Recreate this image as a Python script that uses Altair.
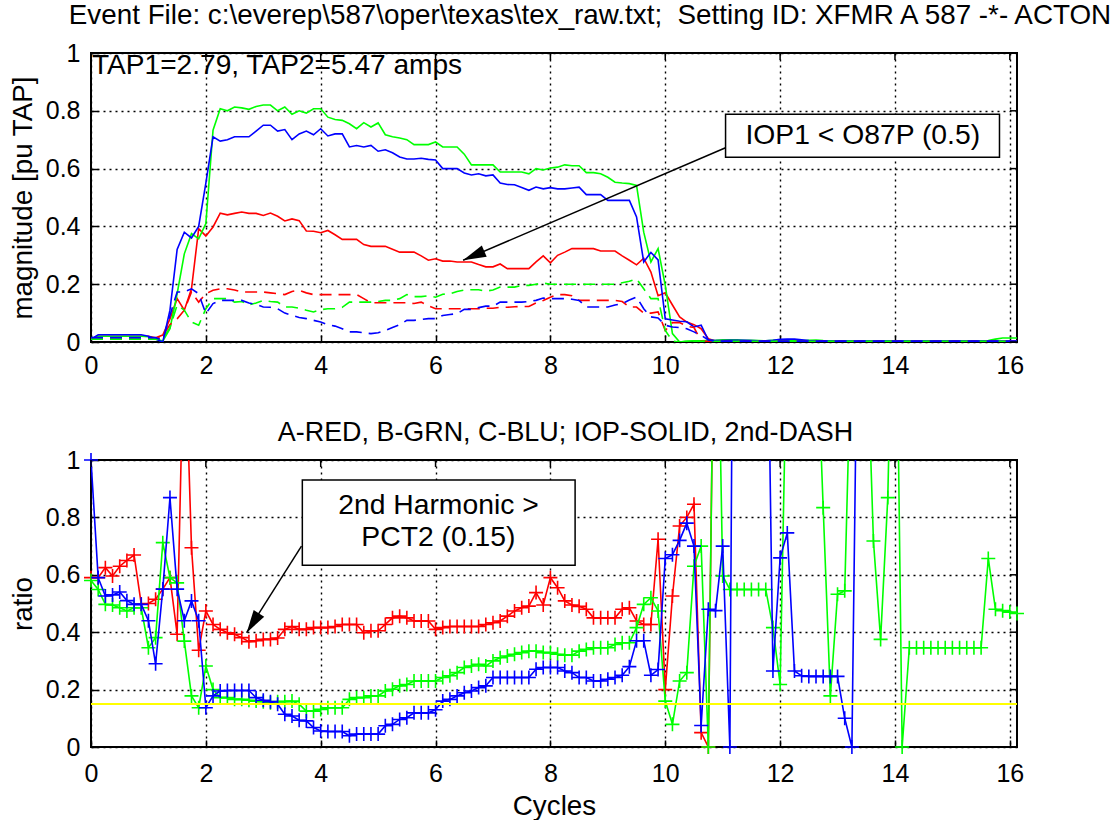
import altair as alt
import pandas as pd

# ---------------- data ----------------
T_STEP = 0.125          # sample spacing in cycles
N_SAMPLES = 130
T_MAX = 16.125
PCT2 = 0.15

title_top = "Event File: c:\\everep\\587\\oper\\texas\\tex_raw.txt;\u00a0 Setting ID: XFMR A 587 -*- ACTON"
title_bottom = "A-RED, B-GRN, C-BLU; IOP-SOLID, 2nd-DASH"
tap_text = "TAP1=2.79, TAP2=5.47 amps"
x_ticks = [0, 2, 4, 6, 8, 10, 12, 14, 16]
y_ticks = [0, 0.2, 0.4, 0.6, 0.8, 1]

# operate currents (solid), pu TAP
iop_a = [0.01, 0.02, 0.02, 0.02, 0.02, 0.02, 0.02, 0.02, 0.02, 0.015,
         0.024, 0.08, 0.15, 0.11, 0.184, 0.392, 0.367, 0.398, 0.446, 0.44,
         0.445, 0.45, 0.445, 0.445, 0.438, 0.446, 0.435, 0.419, 0.426, 0.42,
         0.384, 0.383, 0.378, 0.386, 0.371, 0.355, 0.355, 0.355, 0.337, 0.331,
         0.331, 0.331, 0.321, 0.311, 0.311, 0.311, 0.298, 0.283, 0.288, 0.28,
         0.28, 0.277, 0.277, 0.277, 0.268, 0.26, 0.26, 0.27, 0.254, 0.254,
         0.254, 0.254, 0.277, 0.298, 0.274, 0.3, 0.311, 0.323, 0.323, 0.323,
         0.323, 0.315, 0.315, 0.315, 0.298, 0.283, 0.267, 0.29, 0.242, 0.16,
         0.17, 0.128, 0.087, 0.069, 0.06, 0.046, 0.011, 0.003, 0.002, 0.002,
         0.002, 0.002, 0.002, 0.002, 0.002, 0.002, 0.002, 0.002, 0.002, 0.002,
         0.002, 0.002, 0.002, 0.002, 0.002, 0.002, 0.002, 0.002, 0.002, 0.002,
         0.002, 0.002, 0.002, 0.002, 0.002, 0.002, 0.002, 0.002, 0.002, 0.002,
         0.002, 0.002, 0.002, 0.002, 0.002, 0.002, 0.002, 0.002, 0.002, 0.002]
iop_b = [0.01, 0.02, 0.02, 0.02, 0.02, 0.02, 0.02, 0.02, 0.018, 0.01,
         0.003, 0.046, 0.167, 0.305, 0.375, 0.357, 0.41, 0.733, 0.807, 0.8,
         0.813, 0.81, 0.805, 0.815, 0.82, 0.82, 0.8, 0.813, 0.788, 0.8,
         0.792, 0.807, 0.807, 0.778, 0.77, 0.767, 0.755, 0.738, 0.759, 0.744,
         0.758, 0.717, 0.71, 0.706, 0.7, 0.683, 0.683, 0.683, 0.692, 0.675,
         0.675, 0.675, 0.65, 0.613, 0.613, 0.613, 0.613, 0.588, 0.588, 0.588,
         0.588, 0.582, 0.6, 0.595, 0.602, 0.605, 0.613, 0.61, 0.61, 0.586,
         0.586, 0.582, 0.57, 0.553, 0.55, 0.548, 0.542, 0.38, 0.277, 0.323,
         0.196, 0.029, 0.0, 0.003, 0.004, 0.004, 0.005, 0.006, 0.008, 0.008,
         0.008, 0.006, 0.006, 0.005, 0.004, 0.006, 0.008, 0.005, 0.004, 0.004,
         0.006, 0.007, 0.005, 0.004, 0.004, 0.003, 0.003, 0.003, 0.003, 0.003,
         0.003, 0.003, 0.003, 0.003, 0.003, 0.003, 0.003, 0.003, 0.003, 0.003,
         0.003, 0.003, 0.003, 0.003, 0.003, 0.005, 0.01, 0.014, 0.014, 0.014]
iop_c = [0.01, 0.025, 0.025, 0.025, 0.025, 0.025, 0.025, 0.025, 0.02, 0.01,
         0.0, 0.11, 0.32, 0.38, 0.36, 0.40, 0.55, 0.71, 0.695, 0.70,
         0.71, 0.71, 0.71, 0.73, 0.75, 0.75, 0.73, 0.735, 0.70, 0.72,
         0.73, 0.717, 0.738, 0.713, 0.72, 0.72, 0.675, 0.68, 0.675, 0.68,
         0.66, 0.665, 0.655, 0.64, 0.633, 0.633, 0.636, 0.632, 0.63, 0.60,
         0.60, 0.60, 0.585, 0.578, 0.582, 0.575, 0.578, 0.55, 0.545, 0.544,
         0.535, 0.525, 0.536, 0.53, 0.534, 0.53, 0.53, 0.533, 0.536, 0.51,
         0.51, 0.51, 0.49, 0.49, 0.49, 0.49, 0.433, 0.277, 0.31, 0.284,
         0.08, 0.076, 0.072, 0.07, 0.052, 0.058, 0.007, 0.005, 0.005, 0.006,
         0.006, 0.006, 0.005, 0.004, 0.004, 0.006, 0.009, 0.01, 0.01, 0.008,
         0.005, 0.004, 0.004, 0.003, 0.003, 0.003, 0.003, 0.003, 0.003, 0.003,
         0.003, 0.003, 0.003, 0.003, 0.003, 0.003, 0.003, 0.003, 0.003, 0.003,
         0.003, 0.003, 0.003, 0.003, 0.003, 0.003, 0.003, 0.003, 0.003, 0.003]

# 2nd harmonic (dashed), pu TAP
h2_a = [0.01, 0.01, 0.01, 0.01, 0.01, 0.01, 0.01, 0.01, 0.01, 0.01,
        0.02, 0.06, 0.08, 0.11, 0.173, 0.138, 0.167, 0.179, 0.184, 0.184,
        0.18, 0.173, 0.173, 0.173, 0.173, 0.17, 0.167, 0.164, 0.175, 0.179,
        0.17, 0.164, 0.164, 0.164, 0.164, 0.164, 0.164, 0.164, 0.15, 0.136,
        0.136, 0.136, 0.136, 0.136, 0.136, 0.133, 0.138, 0.125, 0.115, 0.115,
        0.115, 0.115, 0.115, 0.115, 0.115, 0.117, 0.117, 0.12, 0.12, 0.122,
        0.123, 0.123, 0.135, 0.144, 0.155, 0.164, 0.164, 0.16, 0.144, 0.144,
        0.144, 0.144, 0.144, 0.144, 0.14, 0.121, 0.121, 0.1, 0.1, 0.104,
        0.04, 0.067, 0.067, 0.055, 0.05, 0.003, 0.002, 0.002, 0.002, 0.002,
        0.002, 0.002, 0.002, 0.002, 0.002, 0.002, 0.002, 0.002, 0.002, 0.002,
        0.002, 0.002, 0.002, 0.002, 0.002, 0.002, 0.002, 0.002, 0.002, 0.002,
        0.002, 0.002, 0.002, 0.002, 0.002, 0.002, 0.002, 0.002, 0.002, 0.002,
        0.002, 0.002, 0.002, 0.002, 0.002, 0.002, 0.002, 0.002, 0.002, 0.002]
h2_b = [0.01, 0.01, 0.01, 0.01, 0.01, 0.01, 0.01, 0.01, 0.01, 0.01,
        0.01, 0.05, 0.128, 0.11, 0.069, 0.058, 0.115, 0.15, 0.15, 0.15,
        0.138, 0.14, 0.128, 0.135, 0.144, 0.14, 0.138, 0.121, 0.121, 0.117,
        0.11, 0.104, 0.112, 0.115, 0.115, 0.12, 0.138, 0.138, 0.138, 0.138,
        0.14, 0.144, 0.144, 0.15, 0.164, 0.157, 0.157, 0.16, 0.155, 0.165,
        0.167, 0.175, 0.18, 0.181, 0.181, 0.176, 0.18, 0.19, 0.19, 0.19,
        0.196, 0.196, 0.2, 0.204, 0.2, 0.2, 0.2, 0.2, 0.2, 0.2,
        0.2, 0.2, 0.2, 0.2, 0.205, 0.21, 0.219, 0.184, 0.15, 0.15,
        0.04, 0.003, 0.0, 0.002, 0.002, 0.002, 0.002, 0.002, 0.002, 0.002,
        0.002, 0.002, 0.002, 0.002, 0.002, 0.002, 0.002, 0.002, 0.002, 0.002,
        0.002, 0.002, 0.002, 0.002, 0.002, 0.002, 0.002, 0.002, 0.002, 0.002,
        0.002, 0.002, 0.002, 0.002, 0.002, 0.002, 0.002, 0.002, 0.002, 0.002,
        0.002, 0.002, 0.002, 0.002, 0.002, 0.002, 0.002, 0.002, 0.002, 0.002]
h2_c = [0.015, 0.015, 0.015, 0.015, 0.015, 0.015, 0.015, 0.015, 0.015, 0.015,
        0.005, 0.092, 0.173, 0.173, 0.184, 0.167, 0.098, 0.133, 0.144, 0.144,
        0.144, 0.144, 0.135, 0.13, 0.121, 0.12, 0.115, 0.1, 0.092, 0.085,
        0.081, 0.075, 0.069, 0.06, 0.055, 0.046, 0.035, 0.035, 0.032, 0.029,
        0.032, 0.04, 0.05, 0.06, 0.075, 0.075, 0.078, 0.081, 0.081, 0.092,
        0.095, 0.098, 0.113, 0.113, 0.119, 0.124, 0.124, 0.138, 0.138, 0.138,
        0.138, 0.14, 0.144, 0.152, 0.15, 0.15, 0.15, 0.148, 0.144, 0.121,
        0.121, 0.121, 0.121, 0.128, 0.133, 0.145, 0.156, 0.115, 0.087, 0.083,
        0.058, 0.052, 0.05, 0.046, 0.035, 0.023, 0.007, 0.003, 0.003, 0.003,
        0.003, 0.003, 0.003, 0.003, 0.003, 0.003, 0.003, 0.003, 0.003, 0.003,
        0.003, 0.003, 0.003, 0.003, 0.003, 0.003, 0.003, 0.003, 0.003, 0.003,
        0.003, 0.003, 0.003, 0.003, 0.003, 0.003, 0.003, 0.003, 0.003, 0.003,
        0.003, 0.003, 0.003, 0.003, 0.003, 0.003, 0.003, 0.003, 0.003, 0.003]

# 2nd harmonic ratios (None = not computed)
ratio_a = [0.59, 0.59, 0.625, 0.596, 0.63, 0.65, 0.669, 0.498, 0.5, 0.515,
           0.55, 0.59, 0.393, 1.5, 0.694, 0.337, 0.474, 0.427, 0.41, 0.398,
           0.393, 0.381, 0.367, 0.37, 0.375, 0.375, 0.38, 0.41, 0.42, 0.41,
           0.41, 0.416, 0.416, 0.416, 0.42, 0.427, 0.427, 0.427, 0.398, 0.405,
           0.405, 0.427, 0.45, 0.456, 0.45, 0.439, 0.439, 0.439, 0.41, 0.416,
           0.42, 0.42, 0.42, 0.42, 0.42, 0.427, 0.433, 0.439, 0.456, 0.474,
           0.485, 0.491, 0.538, 0.495, 0.59, 0.555, 0.509, 0.495, 0.49, 0.48,
           0.45, 0.45, 0.45, 0.45, 0.48, 0.485, 0.439, 0.427, 0.427, 0.724,
           0.2, 0.526, 0.77, 0.8, 0.846, 0.05, 0.0, 2.0, None, None,
           None, None, None, None, None, None, None, None, None, None,
           None, None, None, None, None, None, None, None, None, None,
           None, None, None, None, None, None, None, None, None, None,
           None, None, None, None, None, None, None, None, None, None]
ratio_b = [0.58, 0.549, 0.497, 0.495, 0.485, 0.474, 0.485, 0.485, 0.346, 0.381,
           0.712, 0.59, 0.572, 0.369, 0.178, 0.137, 0.282, 0.2, 0.172, 0.172,
           0.166, 0.166, 0.163, 0.16, 0.158, 0.154, 0.158, 0.158, 0.16, 0.149,
           0.125, 0.125, 0.131, 0.137, 0.137, 0.137, 0.166, 0.172, 0.172, 0.178,
           0.178, 0.195, 0.201, 0.213, 0.218, 0.23, 0.23, 0.23, 0.23, 0.242,
           0.248, 0.259, 0.277, 0.282, 0.288, 0.282, 0.3, 0.311, 0.317, 0.323,
           0.329, 0.334, 0.334, 0.329, 0.329, 0.323, 0.32, 0.32, 0.334, 0.34,
           0.346, 0.346, 0.346, 0.357, 0.363, 0.363, 0.416, 0.497, 0.52, 0.474,
           0.16, 0.079, 0.23, 0.259, 0.63, 0.7, 0.0, 2.0, 0.596, 0.549,
           0.549, 0.549, 0.549, 0.549, 0.549, 0.416, 0.218, 1.5, 1.5, 1.5,
           1.5, 1.5, 0.834, 0.178, 0.532, 0.544, 1.5, 1.5, 1.5, 0.718,
           0.375, 0.869, 2.0, 0.0, 0.346, 0.346, 0.346, 0.346, 0.346, 0.346,
           0.346, 0.346, 0.346, 0.346, 0.346, 0.657, 0.48, 0.475, 0.47, 0.465]
ratio_c = [1.0, 0.59, 0.526, 0.53, 0.54, 0.51, 0.497, 0.497, 0.44, 0.29,
           0.55, 0.869, 0.55, 0.44, 0.509, 0.44, 0.137, 0.178, 0.195, 0.197,
           0.197, 0.197, 0.197, 0.172, 0.163, 0.158, 0.149, 0.114, 0.108, 0.093,
           0.091, 0.068, 0.056, 0.054, 0.054, 0.054, 0.039, 0.045, 0.045, 0.045,
           0.045, 0.074, 0.079, 0.096, 0.102, 0.119, 0.119, 0.119, 0.13, 0.16,
           0.166, 0.178, 0.189, 0.195, 0.207, 0.213, 0.242, 0.242, 0.242, 0.242,
           0.242, 0.242, 0.271, 0.277, 0.277, 0.277, 0.265, 0.259, 0.242, 0.242,
           0.23, 0.23, 0.236, 0.242, 0.25, 0.28, 0.37, 0.37, 0.25, 0.27,
           0.657, 0.67, 0.72, 0.78, 0.70, 0.075, 0.48, 0.475, 0.70, 0.0,
           4.0, 4.0, 4.0, 4.0, 2.0, 0.265, 0.659, 0.746, 0.265, 0.248,
           0.246, 0.246, 0.246, 0.246, 0.246, 0.1, 0.0, 2.0, None, None,
           None, None, None, None, None, None, None, None, None, None,
           None, None, None, None, None, None, None, None, None, None]

# annotations (data coordinates)
box1 = {"x": 11.05, "x2": 15.82, "y": 0.639, "y2": 0.788, "tx": 13.44, "ty": 0.713,
        "text": "IOP1 < O87P (0.5)"}
arrow1 = {"x": 11.05, "y": 0.672, "x2": 6.48, "y2": 0.283}
box2 = {"x": 3.68, "x2": 8.43, "y": 0.633, "y2": 0.93}
box2_text = {"tx": [6.05, 6.05], "ty": [0.84, 0.728], "text": ["2nd Harmonic >", "PCT2 (0.15)"]}
arrow2 = {"x": 3.665, "y": 0.70, "x2": 2.71, "y2": 0.398}

RED, GREEN, BLUE, YELLOW = "#ff0000", "#00ff00", "#0000ff", "#ffff00"
FONT = "Liberation Sans"
FS_TICK = 25
FS_TITLE = 27.8
FS_NOTE = 28.3
W, H1, H2 = 926, 289, 287
TICK = 7

t = [i * T_STEP for i in range(N_SAMPLES)]


def frame(vals):
    return pd.DataFrame({"t": t, "v": vals})


xscale = alt.Scale(domain=[0, T_MAX], nice=False, zero=False)
yscale = alt.Scale(domain=[0, 1], nice=False)


def make_xaxis(title, pad):
    return alt.Axis(values=x_ticks, format="~g", grid=True, offset=-TICK, tickSize=TICK,
                    labelPadding=pad, labelFlush=False, labelOverlap=False,
                    title=title, titlePadding=6)


def make_yaxis(title):
    return alt.Axis(values=y_ticks, format="~g", grid=True, offset=-TICK, tickSize=TICK,
                    labelPadding=11, title=title, titlePadding=8, labelFlush=False,
                    labelOverlap=False)


def enc(xf, yf, xax, yax):
    return dict(x=alt.X(xf, type="quantitative", scale=xscale, axis=xax),
                y=alt.Y(yf, type="quantitative", scale=yscale, axis=yax))


def box_ticks(xax, yax):
    # inward ticks on the right and top edges (MATLAB box style)
    right = alt.Chart(pd.DataFrame({"v": y_ticks})).mark_rule(color="black", strokeWidth=1.5).encode(
        y=alt.Y("v:Q", scale=yscale, axis=yax), x=alt.value(W - TICK), x2=alt.value(W))
    topt = alt.Chart(pd.DataFrame({"t": x_ticks})).mark_rule(color="black", strokeWidth=1.5).encode(
        x=alt.X("t:Q", scale=xscale, axis=xax), y=alt.value(0), y2=alt.value(TICK))
    return [right, topt]


# ---------- top panel ----------
XA1 = make_xaxis(None, 11)
YA1 = make_yaxis("magnitude [pu TAP]")
top_layers = []
for vals, col in [(iop_a, RED), (iop_b, GREEN), (iop_c, BLUE)]:
    top_layers.append(alt.Chart(frame(vals)).mark_line(color=col, strokeWidth=1.6, clip=True)
                      .encode(**enc("t", "v", XA1, YA1)))
for vals, col in [(h2_a, RED), (h2_b, GREEN), (h2_c, BLUE)]:
    top_layers.append(alt.Chart(frame(vals)).mark_line(color=col, strokeWidth=1.6, strokeDash=[12, 7], clip=True)
                      .encode(**enc("t", "v", XA1, YA1)))
top_layers += box_ticks(XA1, YA1)
top_layers.append(alt.Chart(pd.DataFrame([arrow1])).mark_rule(color="black", strokeWidth=1.5)
                  .encode(**enc("x", "y", XA1, YA1), x2="x2:Q", y2="y2:Q"))
top_layers.append(alt.Chart(pd.DataFrame([arrow1])).mark_point(
    shape="M0,0L0.27,1L-0.27,1Z", size=2116, filled=True, color="black", opacity=1, angle=246.8)
                  .encode(**enc("x2", "y2", XA1, YA1)))
top_layers.append(alt.Chart(pd.DataFrame([box1])).mark_rect(fill="white", stroke="black", strokeWidth=1.5)
                  .encode(**enc("x", "y", XA1, YA1), x2="x2:Q", y2="y2:Q"))
top_layers.append(alt.Chart(pd.DataFrame([box1])).mark_text(font=FONT, fontSize=FS_NOTE, color="black")
                  .encode(**enc("tx", "ty", XA1, YA1), text="text:N"))
top_layers.append(alt.Chart(pd.DataFrame({"text": [tap_text]})).mark_text(
    font=FONT, fontSize=28.1, align="left", baseline="alphabetic", color="black")
                  .encode(x=alt.value(1), y=alt.value(21), text="text:N"))

top = alt.layer(*top_layers).properties(
    width=W, height=H1,
    title=alt.TitleParams(title_top, font=FONT, fontSize=27.8, fontWeight="normal", color="black",
                          anchor="middle", dx=36, offset=11))

# ---------- bottom panel ----------
XA2 = make_xaxis("Cycles", 14)
YA2 = make_yaxis("ratio")
bot_layers = []
for vals, col in [(ratio_a, RED), (ratio_b, GREEN), (ratio_c, BLUE)]:
    df = frame(vals)
    bot_layers.append(alt.Chart(df).mark_line(color=col, strokeWidth=1.6, clip=True)
                      .encode(**enc("t", "v", XA2, YA2)))
    bot_layers.append(alt.Chart(df).transform_filter("datum.v != null && datum.v <= 1").mark_point(
        shape="M-1,0L1,0M0,-1L0,1", size=196, filled=False, color=col, strokeWidth=1.6, opacity=1)
                      .encode(**enc("t", "v", XA2, YA2)))

bot_layers.append(alt.Chart(pd.DataFrame({"v": [PCT2]})).mark_rule(color=YELLOW, strokeWidth=2)
                  .encode(y=alt.Y("v:Q", scale=yscale, axis=YA2)))
bot_layers += box_ticks(XA2, YA2)
bot_layers.append(alt.Chart(pd.DataFrame([arrow2])).mark_rule(color="black", strokeWidth=1.5)
                  .encode(**enc("x", "y", XA2, YA2), x2="x2:Q", y2="y2:Q"))
bot_layers.append(alt.Chart(pd.DataFrame([arrow2])).mark_point(
    shape="M0,0L0.27,1L-0.27,1Z", size=2116, filled=True, color="black", opacity=1, angle=212.4)
                  .encode(**enc("x2", "y2", XA2, YA2)))
bot_layers.append(alt.Chart(pd.DataFrame([box2])).mark_rect(fill="white", stroke="black", strokeWidth=1.5)
                  .encode(**enc("x", "y", XA2, YA2), x2="x2:Q", y2="y2:Q"))
bot_layers.append(alt.Chart(pd.DataFrame(box2_text)).mark_text(font=FONT, fontSize=FS_NOTE, color="black")
                  .encode(**enc("tx", "ty", XA2, YA2), text="text:N"))

bottom = alt.layer(*bot_layers).properties(
    width=W, height=H2,
    title=alt.TitleParams(title_bottom, font=FONT, fontSize=26.9, fontWeight="normal", color="black",
                          anchor="middle", dx=11.5, offset=1))

chart = alt.vconcat(top, bottom, spacing=39).properties(
    padding={"left": 8, "top": 1, "right": 0, "bottom": 0},
    background="white",
).configure_view(stroke="black", strokeWidth=2).configure_axis(
    domain=False, labelFont=FONT, titleFont=FONT, labelFontSize=FS_TICK, titleFontSize=FS_TITLE,
    titleFontWeight="normal", labelColor="black", titleColor="black", tickColor="black",
    tickWidth=1.5, gridColor="black", gridDash=[2, 4], gridWidth=1.4, gridOpacity=1
)

chart.save("out.html", embed_options={"renderer": "svg", "actions": False})
